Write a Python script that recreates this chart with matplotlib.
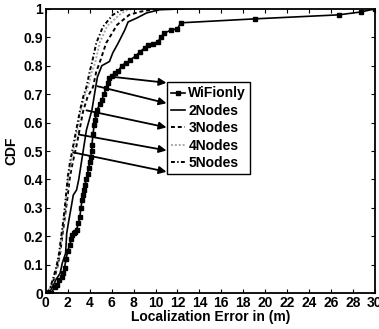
import matplotlib.pyplot as plt

plt.rcParams.update({
    "font.family": ["Liberation Sans", "DejaVu Sans"],
    "font.weight": "bold",
    "font.size": 10,
    "axes.linewidth": 1.3,
    "xtick.direction": "in", "ytick.direction": "in",
    "xtick.top": True, "ytick.right": True,
    "xtick.major.size": 3, "ytick.major.size": 3,
    "xtick.major.width": 0.8, "ytick.major.width": 0.8,
})

# CDF curves
wifi_x = [0.2, 0.45, 0.8, 1.0, 1.2, 1.45, 1.6, 1.7, 1.85, 2.0, 2.2, 2.3, 2.4, 2.6, 2.7, 2.8,
          2.95, 3.1, 3.2, 3.3, 3.4, 3.5, 3.55, 3.7, 3.8, 3.9, 4.0, 4.1, 4.2, 4.2, 4.3, 4.4,
          4.5, 4.6, 4.7, 4.9, 5.1, 5.3, 5.5, 5.65, 5.8, 6.0, 6.3, 6.6, 6.9, 7.3, 7.7, 8.2,
          8.6, 9.0, 9.3, 9.8, 10.2, 10.5, 10.8, 11.4, 12.0, 12.3, 19.1, 26.7, 28.7, 30.0]
wifi_y = [0, 0, 0.02, 0.03, 0.045, 0.056, 0.07, 0.09, 0.12, 0.15, 0.17, 0.19, 0.204, 0.21, 0.215, 0.222,
          0.245, 0.268, 0.3, 0.327, 0.345, 0.363, 0.38, 0.40, 0.42, 0.44, 0.46, 0.48, 0.5, 0.52, 0.56, 0.59,
          0.61, 0.63, 0.645, 0.665, 0.68, 0.70, 0.72, 0.74, 0.757, 0.765, 0.775, 0.78, 0.80, 0.81, 0.82, 0.835,
          0.85, 0.862, 0.873, 0.878, 0.884, 0.90, 0.915, 0.925, 0.93, 0.951, 0.965, 0.979, 0.989, 1.0]

n2_x = [0.2, 0.6, 0.9, 1.3, 1.5, 1.8, 1.9, 2.1, 2.3, 2.5, 2.8, 3.0, 3.2, 3.7, 4.2, 4.5, 4.7,
        5.1, 5.8, 6.1, 6.6, 7.2, 7.5, 8.3, 9.2, 10.4, 12.5]
n2_y = [0, 0.02, 0.046, 0.07, 0.106, 0.14, 0.21, 0.257, 0.30, 0.345, 0.363, 0.40, 0.45, 0.574, 0.644,
        0.715, 0.76, 0.80, 0.815, 0.845, 0.88, 0.926, 0.954, 0.968, 0.986, 0.997, 1.0]

n3_x = [0.1, 0.45, 0.8, 1.1, 1.3, 1.5, 1.7, 1.95, 2.2, 2.45, 2.8, 3.1, 3.4, 3.8, 4.3, 4.6,
        4.9, 5.5, 6.5, 7.6, 8.6, 10.0]
n3_y = [0, 0.02, 0.056, 0.1, 0.14, 0.2, 0.257, 0.33, 0.41, 0.46, 0.52, 0.58, 0.64, 0.69, 0.725, 0.78,
        0.81, 0.88, 0.944, 0.979, 0.99, 1.0]

n4_x = [0.1, 0.4, 0.75, 1.05, 1.25, 1.45, 1.65, 1.85, 2.05, 2.3, 2.6, 2.9, 3.2, 3.5, 3.85, 4.2,
        4.5, 4.9, 5.6, 6.7, 7.4, 8.0]
n4_y = [0, 0.02, 0.056, 0.1, 0.14, 0.2, 0.257, 0.33, 0.41, 0.46, 0.52, 0.58, 0.64, 0.69, 0.725, 0.78,
        0.81, 0.88, 0.94, 0.979, 0.996, 1.0]

n5_x = [0.1, 0.4, 0.7, 1.0, 1.2, 1.4, 1.6, 1.8, 2.0, 2.2, 2.5, 2.8, 3.1, 3.4, 3.7, 4.0,
        4.2, 4.6, 5.2, 6.1, 6.9, 7.5]
n5_y = [0, 0.02, 0.056, 0.1, 0.14, 0.2, 0.257, 0.33, 0.41, 0.46, 0.52, 0.58, 0.64, 0.69, 0.725, 0.78,
        0.81, 0.88, 0.937, 0.979, 0.996, 1.0]

labels = ["WiFionly", "2Nodes", "3Nodes", "4Nodes", "5Nodes"]
# arrow tails (on curves) and heads (at the legend)
arrow_from = [(6.3, 0.76), (4.7, 0.728), (3.7, 0.643), (3.0, 0.558), (2.5, 0.495)]
arrow_to = [(11.0, 0.74), (11.0, 0.668), (11.0, 0.583), (11.0, 0.502), (11.0, 0.427)]

fig = plt.figure(figsize=(3.79, 3.29), dpi=100)
ax = fig.add_axes([0.121, 0.109, 0.868, 0.864])

ax.plot(wifi_x, wifi_y, "k-", marker="s", ms=3.5, lw=1.2, label=labels[0])
ax.plot(n2_x, n2_y, "k-", lw=1.2, label=labels[1])
ax.plot(n3_x, n3_y, color="k", ls=(0, (2, 1.5)), lw=1.4, label=labels[2])
ax.plot(n4_x, n4_y, color="#a8a8a8", ls=(0, (1, 1)), lw=1.4, label=labels[3])
ax.plot(n5_x, n5_y, color="k", ls=(0, (2, 1.2, 0.7, 1.2)), lw=1.4, label=labels[4])

for s, e in zip(arrow_from, arrow_to):
    ax.annotate("", xy=e, xytext=s,
                arrowprops=dict(arrowstyle="-|>", color="k", lw=1.3,
                                mutation_scale=11, shrinkA=0, shrinkB=0))

ax.set_xlim(0, 30)
ax.set_ylim(0, 1)
ax.set_xticks(range(0, 31, 2))
ax.set_yticks([i / 10 for i in range(11)])
ax.set_yticklabels(["0"] + [f"{i / 10:.1f}" for i in range(1, 10)] + ["1"])
ax.tick_params(axis="both", pad=2)
ax.set_xlabel("Localization Error in (m)", fontweight="bold", labelpad=0)
ax.set_ylabel("CDF", fontweight="bold", labelpad=4)

leg = ax.legend(loc="upper left", bbox_to_anchor=(0.368, 0.742), frameon=True,
                fancybox=False, edgecolor="k", handlelength=1.0, handletextpad=0.25,
                borderpad=0.3, labelspacing=0.25, borderaxespad=0,
                prop={"weight": "bold", "size": 10})
leg.get_frame().set_linewidth(1.0)
leg.get_frame().set_alpha(1)

fig.savefig("out.png", dpi=100)
